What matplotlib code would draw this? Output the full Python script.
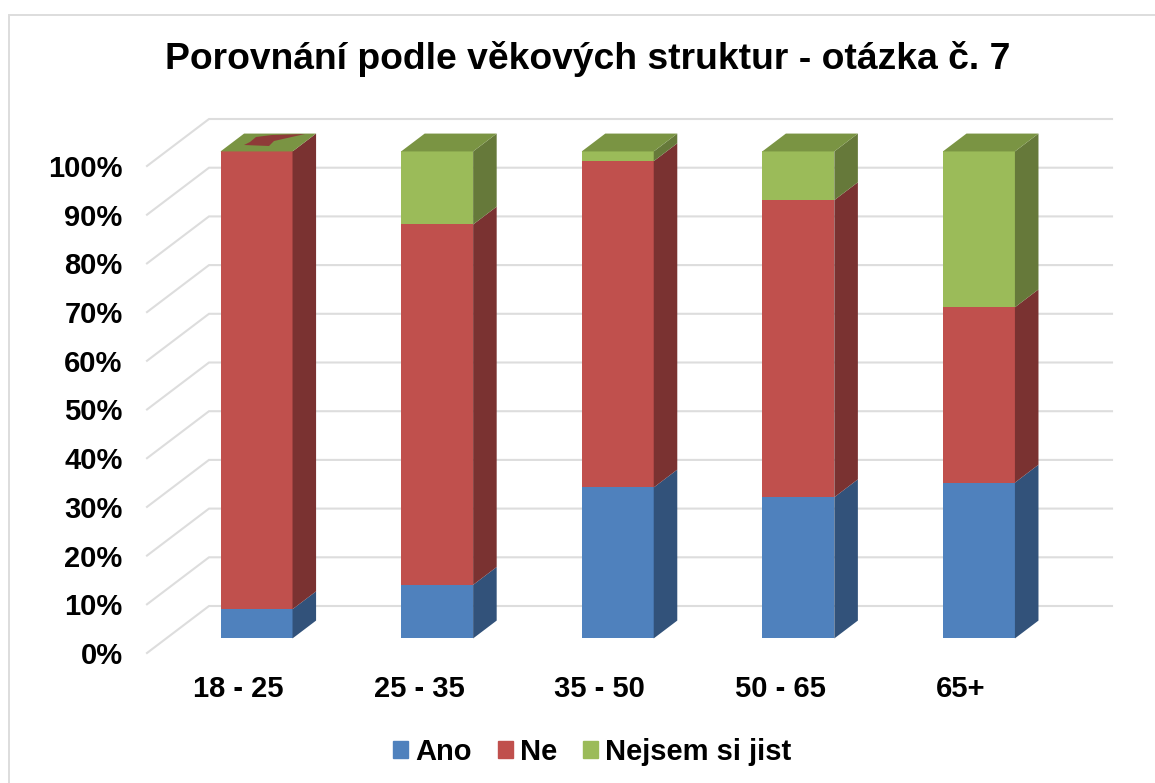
import matplotlib
matplotlib.use("Agg")
import matplotlib.pyplot as plt
from matplotlib.patches import Polygon, Rectangle, Patch
from matplotlib.transforms import ScaledTranslation

plt.rcParams['font.family'] = ['Liberation Sans', 'DejaVu Sans']

title = "Porovnání podle věkových struktur - otázka č. 7"
categories = ["18 - 25", "25 - 35", "35 - 50", "50 - 65", "65+"]
series_names = ["Ano", "Ne", "Nejsem si jist"]
ano = [6, 11, 31, 29, 32]
ne = [94, 74, 67, 61, 36]
nejsem = [0, 15, 2, 10, 32]
yticks = list(range(0, 101, 10))
ytick_labels = [f"{t}%" for t in yticks]

W, H = 1155, 783
front_cols = ["#4F81BD", "#C0504D", "#9BBB59"]
side_cols = ["#32527A", "#7A3231", "#66793A"]
top_col = "#7A9443"
grid_col = "#DDDDDD"

# pixel geometry of the plot box
L, R, B, T = 147, 1050, 653, 166
DEPTH_X, DEPTH_Y = 62, 47
px_per_cat = (R - L) / len(categories)
px_per_val = (B - T) / 100
D_FRONT, D_BACK = 0.31, 0.69
BAR_W = 72 / px_per_cat

fig = plt.figure(figsize=(W / 100, H / 100), dpi=100)
ax = fig.add_axes([L / W, 1 - B / H, (R - L) / W, (B - T) / H])
ax.set_xlim(-0.5, len(categories) - 0.5)
ax.set_ylim(0, 100)


def proj(x, v, d):
    return (x + DEPTH_X * d / px_per_cat, v + DEPTH_Y * d / px_per_val)


def from_px(px, py):
    return (-0.5 + (px - L) / px_per_cat, (B - py) / px_per_val)


# frame
fig.add_artist(Rectangle((9 / W, -0.02), 1.2, 1 - 15 / H + 0.02, transform=fig.transFigure,
                         fill=False, ec="#DDDDDD", lw=1.4))

# walls
for t in yticks:
    x0, x1 = -0.5, len(categories) - 0.5
    a, b, c = proj(x0, t, 0), proj(x0, t, 1), proj(x1, t, 1)
    ax.plot([a[0], b[0], c[0]], [a[1], b[1], c[1]], color=grid_col, lw=1.5,
            clip_on=False, zorder=1, solid_joinstyle="miter")

# bars
for i in range(len(categories)):
    bottom = 0
    left = i - BAR_W / 2
    right = i + BAR_W / 2
    for k, vals in enumerate([ano, ne, nejsem]):
        v = vals[i]
        if v > 0:
            fx, fy = proj(i, bottom, D_FRONT)
            ax.bar(fx, v, BAR_W, bottom=fy, color=front_cols[k], clip_on=False, zorder=3, lw=0)
            ax.add_patch(Polygon([proj(right, bottom, D_FRONT), proj(right, bottom, D_BACK),
                                  proj(right, bottom + v, D_BACK), proj(right, bottom + v, D_FRONT)],
                                 closed=True, fc=side_cols[k], ec="none", clip_on=False, zorder=3))
        bottom += v
    ax.add_patch(Polygon([proj(left, bottom, D_FRONT), proj(right, bottom, D_FRONT),
                          proj(right, bottom, D_BACK), proj(left, bottom, D_BACK)],
                         closed=True, fc=top_col, ec="none", clip_on=False, zorder=3))

# red arrow showing through the top face of the first bar
arrow_px = [(305, 134), (272, 135), (256, 137), (250, 142), (244, 145), (269, 146), (274, 141)]
ax.add_patch(Polygon([from_px(*p) for p in arrow_px], closed=True, fc="#8E3B38", ec="none",
                     clip_on=False, zorder=4))

# axes text
for s in ax.spines.values():
    s.set_visible(False)
ax.patch.set_visible(False)
ax.set_xticks(range(len(categories)), categories)
ax.set_yticks(yticks, ytick_labels)
ax.tick_params(axis="both", length=0, labelsize=21, labelcolor="black")
ax.tick_params(axis="y", pad=17.5)
ax.tick_params(axis="x", pad=16)
shift = ScaledTranslation(1.2 / 100, 0, fig.dpi_scale_trans)
for lab in ax.get_xticklabels():
    lab.set_fontweight("bold")
    lab.set_transform(lab.get_transform() + shift)
for lab in ax.get_yticklabels():
    lab.set_fontweight("bold")

fig.text(587.5 / W, 1 - 59 / H, title, ha="center", va="center", fontsize=26.8, fontweight="bold")

handles = [Patch(color=c, label=n) for c, n in zip(front_cols, series_names)]
fig.legend(handles=handles, loc="center", bbox_to_anchor=(592.5 / W, 1 - 752 / H), ncol=3, frameon=False,
           prop={"size": 21, "weight": "bold"}, handlelength=0.514, handleheight=0.514,
           handletextpad=0.24, columnspacing=0.9, borderpad=0)

fig.savefig("out.png", dpi=100)
